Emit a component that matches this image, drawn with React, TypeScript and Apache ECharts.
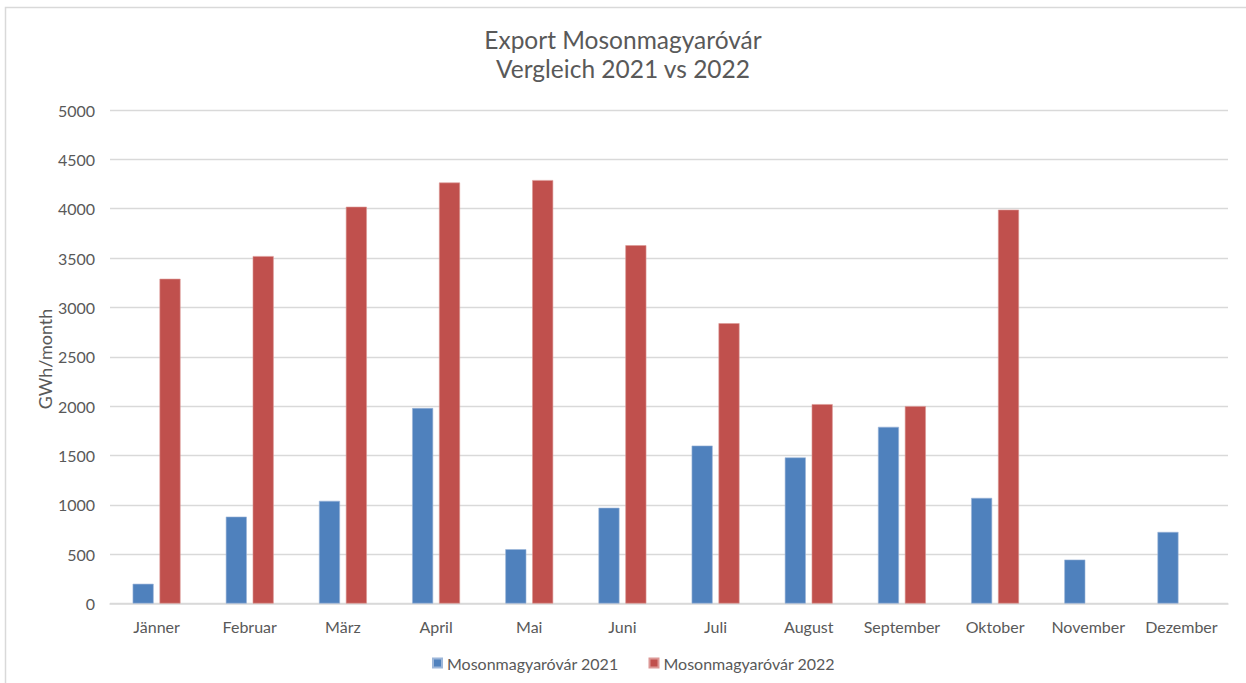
import React, { useEffect, useRef } from "react";
import * as echarts from "echarts";

const categories = ["Jänner", "Februar", "März", "April", "Mai", "Juni", "Juli", "August", "September", "Oktober", "November", "Dezember"];
const values2021 = [200, 880, 1040, 1980, 550, 970, 1600, 1480, 1790, 1070, 445, 725];
const values2022 = [3290, 3520, 4020, 4265, 4290, 3630, 2840, 2020, 2000, 3990, null, null];
const seriesNames = ["Mosonmagyaróvár 2021", "Mosonmagyaróvár 2022"];
const titleLines = ["Export Mosonmagyaróvár", "Vergleich 2021 vs 2022"];
const yAxisName = "GWh/month";

const FONT = "Lato, 'Noto Sans', sans-serif";
const TXT = "#595959";

export default function App() {
  const ref = useRef<HTMLDivElement>(null);
  useEffect(() => {
    if (!ref.current) return;
    const chart = echarts.init(ref.current, null, { renderer: "svg" });
    chart.setOption({
      animation: false,
      backgroundColor: "#ffffff",
      textStyle: { fontFamily: FONT },
      title: {
        text: titleLines.join("\n"),
        left: "center",
        top: 20,
        textStyle: { fontFamily: FONT, fontSize: 24.5, fontWeight: "normal", color: TXT, lineHeight: 29 },
      },
      legend: {
        left: 427,
        top: 650,
        icon: "rect",
        itemWidth: 9,
        itemHeight: 9,
        itemGap: 30,
        textStyle: { fontFamily: FONT, fontSize: 16, color: TXT },
        data: seriesNames,
      },
      grid: { left: 110, right: 18, top: 110, bottom: 79.5, containLabel: false },
      xAxis: {
        type: "category",
        data: categories,
        axisTick: { show: false },
        axisLine: { lineStyle: { color: "#d9d9d9", width: 1.5 } },
        axisLabel: { color: TXT, fontSize: 16, fontFamily: FONT, margin: 15, interval: 0 },
      },
      yAxis: {
        type: "value",
        min: 0,
        max: 5000,
        interval: 500,
        axisLine: { show: false },
        axisTick: { show: false },
        axisLabel: { color: TXT, fontSize: 16, fontFamily: FONT, margin: 15, formatter: (v: number) => String(v) },
        splitLine: { lineStyle: { color: "#d9d9d9", width: 1.3 } },
      },
      graphic: [
        {
          type: "rect",
          shape: { x: 5.5, y: 7.5, width: 1260, height: 700 },
          style: { fill: "none", stroke: "#d9d9d9", lineWidth: 1.5 },
          silent: true,
        },
        {
          type: "text",
          x: 45,
          y: 359,
          rotation: Math.PI / 2,
          style: {
            text: yAxisName,
            fontFamily: FONT,
            fontSize: 18,
            fill: TXT,
            align: "center",
            verticalAlign: "middle",
          },
        },
      ],
      series: [
        {
          name: seriesNames[0],
          type: "bar",
          data: values2021,
          barWidth: 21,
          barGap: "28%",
          itemStyle: { color: "#4F81BD", borderColor: "#9cb6d9", borderWidth: 0.6 },
        },
        {
          name: seriesNames[1],
          type: "bar",
          data: values2022,
          barWidth: 21,
          barGap: "28%",
          itemStyle: { color: "#C0504D", borderColor: "#dc9896", borderWidth: 0.6 },
        },
      ],
    });
    return () => chart.dispose();
  }, []);
  return <div ref={ref} style={{ position: "fixed", left: 0, top: 0, width: 1246, height: 683 }} />;
}
